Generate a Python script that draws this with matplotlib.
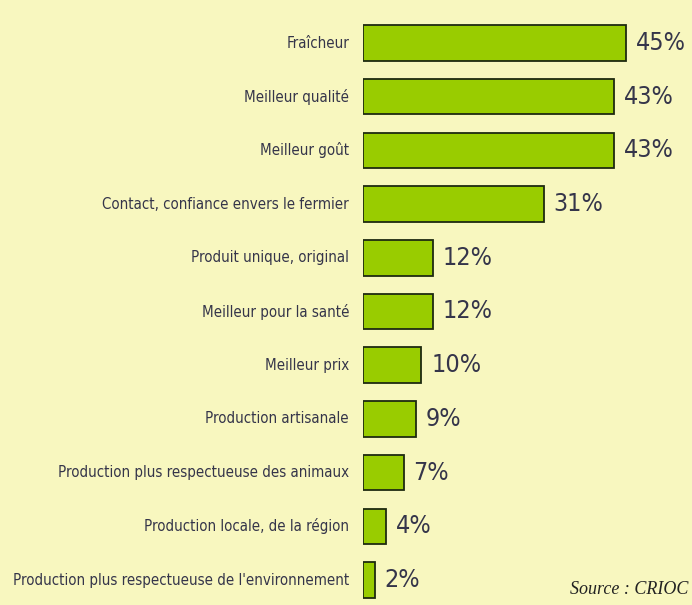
import matplotlib as mpl
mpl.use("Agg")
import matplotlib.pyplot as plt
from matplotlib import font_manager

# condensed look: prefer a narrow family if the box has one
names = {f.name for f in font_manager.fontManager.ttflist}
NARROW = "Liberation Sans Narrow" if "Liberation Sans Narrow" in names else "DejaVu Sans"
STRETCH = "normal" if NARROW == "Liberation Sans Narrow" else "condensed"

categories = [
    "Fraîcheur",
    "Meilleur qualité",
    "Meilleur goût",
    "Contact, confiance envers le fermier",
    "Produit unique, original",
    "Meilleur pour la santé",
    "Meilleur prix",
    "Production artisanale",
    "Production plus respectueuse des animaux",
    "Production locale, de la région",
    "Production plus respectueuse de l'environnement",
]
values = [45, 43, 43, 31, 12, 12, 10, 9, 7, 4, 2]

BG = "#F8F7BF"
BAR = "#99CC00"
TEXT = "#35354A"

fig = plt.figure(figsize=(6.92, 6.05), dpi=100, facecolor=BG)
ax = fig.add_axes([363 / 692, 0, 292 / 692, 1])
ax.set_facecolor(BG)

ypos = list(range(len(categories)))
ax.barh(ypos, values, height=0.66, color=BAR, edgecolor="#1e2a10", linewidth=1.3)
ax.set_xlim(0, 50)
ax.set_ylim((605 - 43) / 53.7, -43 / 53.7)
ax.axis("off")

for y, name, v in zip(ypos, categories, values):
    ax.annotate(name, (0, y), xytext=(-10, 0), textcoords="offset points",
                ha="right", va="center", fontsize=10.8, color=TEXT,
                family=NARROW, stretch=STRETCH)
    ax.annotate(f"{v}%", (v, y), xytext=(7, 0), textcoords="offset points",
                ha="left", va="center", fontsize=18, color=TEXT,
                family=NARROW, stretch=STRETCH)

fig.text(0.995, 0.012, "Source : CRIOC", ha="right", va="bottom",
         fontsize=13, style="italic", family="Liberation Serif", color="#222222")

fig.savefig("out.png", dpi=100, facecolor=BG)
